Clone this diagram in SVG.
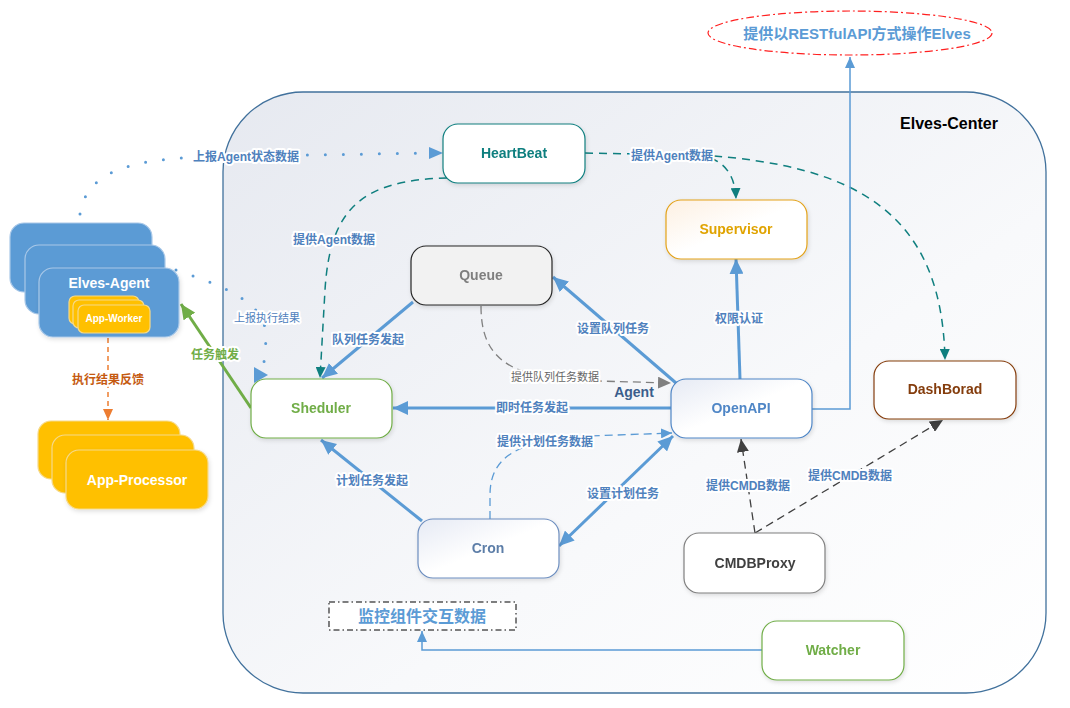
<svg xmlns="http://www.w3.org/2000/svg" width="1070" height="708" viewBox="0 0 1070 708">
<defs>
<linearGradient id="gCenter" x1="0" y1="0" x2="1" y2="1">
<stop offset="0" stop-color="#e6e9f0"/><stop offset="0.6" stop-color="#f8f9fb"/><stop offset="1" stop-color="#ffffff"/>
</linearGradient>
<linearGradient id="gBlue" x1="0" y1="0" x2="1" y2="1">
<stop offset="0" stop-color="#e6eaf4"/><stop offset="0.5" stop-color="#ffffff"/>
</linearGradient>
<linearGradient id="gOrange" x1="0" y1="0" x2="1" y2="1">
<stop offset="0" stop-color="#fdf0e2"/><stop offset="0.5" stop-color="#ffffff"/>
</linearGradient>
<filter id="sh" x="-10%" y="-10%" width="130%" height="140%">
<feDropShadow dx="1" dy="2" stdDeviation="2" flood-color="#000" flood-opacity="0.12"/>
</filter>
<marker id="aBlue" markerUnits="userSpaceOnUse" markerWidth="16" markerHeight="14" refX="15" refY="7" orient="auto-start-reverse"><path d="M0,0 L15,7 L0,14 Z" fill="#5b9bd5"/></marker>
<marker id="aBlueS" markerUnits="userSpaceOnUse" markerWidth="12" markerHeight="10" refX="11" refY="5" orient="auto"><path d="M0,0 L11,5 L0,10 Z" fill="#5b9bd5"/></marker>
<marker id="aTeal" markerUnits="userSpaceOnUse" markerWidth="12" markerHeight="10" refX="11" refY="5" orient="auto"><path d="M0,0 L11,5 L0,10 Z" fill="#0f7f7f"/></marker>
<marker id="aGray" markerUnits="userSpaceOnUse" markerWidth="14" markerHeight="12" refX="13" refY="6" orient="auto"><path d="M0,0 L13,6 L0,12 Z" fill="#808080"/></marker>
<marker id="aDark" markerUnits="userSpaceOnUse" markerWidth="14" markerHeight="12" refX="13" refY="6" orient="auto"><path d="M0,0 L13,6 L0,12 Z" fill="#404040"/></marker>
<marker id="aOrange" markerUnits="userSpaceOnUse" markerWidth="12" markerHeight="10" refX="11" refY="5" orient="auto"><path d="M0,0 L11,5 L0,10 Z" fill="#ed7d31"/></marker>
<marker id="aGreen" markerUnits="userSpaceOnUse" markerWidth="16" markerHeight="14" refX="15" refY="7" orient="auto"><path d="M0,0 L15,7 L0,14 Z" fill="#70ad47"/></marker>
</defs>
<style>
text{font-family:"Liberation Sans","Noto Sans CJK SC",sans-serif;text-anchor:middle;dominant-baseline:central}
.node{font-size:14px;font-weight:bold}
.lbl{font-size:12px;font-weight:bold;fill:#4f81bd;paint-order:stroke;stroke:#ffffff;stroke-width:4px;stroke-linejoin:round}
.lbln{font-size:11px;paint-order:stroke;stroke:#ffffff;stroke-width:4px;stroke-linejoin:round}
.thick{fill:none;stroke:#5b9bd5;stroke-width:3}
.dot{fill:none;stroke:#5b9bd5;stroke-width:3;stroke-linecap:round;stroke-dasharray:0 18}
.teal{fill:none;stroke:#0f7f7f;stroke-width:1.5;stroke-dasharray:8 6}
.card{fill:#5b9bd5;stroke:#a9c8e8;stroke-width:1.2}
.yel{fill:#ffc000;stroke:#f5d98a;stroke-width:1.2}
</style>

<g id="elves-center">
<rect x="223" y="92" width="823" height="601" rx="80" ry="80" fill="url(#gCenter)" stroke="#41719c" stroke-width="1.3"/>
<text x="949" y="123" style="font-size:16px;font-weight:bold;fill:#000">Elves-Center</text>
</g>

<g id="restful">
<ellipse cx="850" cy="33" rx="142" ry="22" fill="#ffffff" stroke="#ff2020" stroke-width="1.2" stroke-dasharray="8 3 2 3"/>
<text x="857" y="33" style="font-size:15px;font-weight:bold;fill:#5b9bd5">提供以RESTfulAPI方式操作Elves</text>
</g>

<g id="monitor">
<rect x="329" y="602" width="187" height="28" fill="#ffffff" stroke="#000" stroke-width="1" stroke-dasharray="6 3 1.5 3"/>
<text x="422" y="616" style="font-size:16px;font-weight:bold;fill:#5b9bd5">监控组件交互数据</text>
</g>

<g id="connectors">
<path class="dot" d="M80,214 C86,176 120,160 200,157 L428,153"/>
<polygon points="429,147 443,153 429,159" fill="#5b9bd5"/>
<path class="dot" d="M176,270 C228,288 268,303 266,340 L264,362"/>
<polygon points="254,367 268,375 254,383" fill="#5b9bd5"/>
<path class="teal" d="M447,178 C360,180 330,210 325,290 L320,378" marker-end="url(#aTeal)"/>
<path class="teal" d="M585,153 L700,155 C725,160 735,175 736,199" marker-end="url(#aTeal)"/>
<path class="teal" d="M700,155 C860,165 942,215 945,360" marker-end="url(#aTeal)"/>
<path class="thick" d="M413,302 L322,378" marker-end="url(#aBlue)"/>
<path class="thick" d="M676,383 L553,277" marker-end="url(#aBlue)"/>
<path class="thick" d="M671,408 L393,408" marker-end="url(#aBlue)"/>
<path class="thick" d="M422,521 L321,440" marker-end="url(#aBlue)"/>
<path class="thick" d="M673,436 L559,546" marker-start="url(#aBlue)" marker-end="url(#aBlue)"/>
<path class="thick" d="M740,379 L736,259" marker-end="url(#aBlue)"/>
<path d="M481,306 C481,350 500,372 560,380 L671,383" fill="none" stroke="#808080" stroke-width="1.3" stroke-dasharray="8 5" marker-end="url(#aGray)"/>
<path d="M490,519 L490,495 C490,455 520,440 590,436 L672,433" fill="none" stroke="#5b9bd5" stroke-width="1.3" stroke-dasharray="8 5" marker-end="url(#aBlueS)"/>
<path d="M755,533 L741,439" fill="none" stroke="#404040" stroke-width="1.3" stroke-dasharray="8 5" marker-end="url(#aDark)"/>
<path d="M755,533 L943,420" fill="none" stroke="#404040" stroke-width="1.3" stroke-dasharray="8 5" marker-end="url(#aDark)"/>
<path d="M812,409 L850,409 L850,57" fill="none" stroke="#5b9bd5" stroke-width="1.5" marker-end="url(#aBlueS)"/>
<path d="M762,650 L422,650 L422,631" fill="none" stroke="#5b9bd5" stroke-width="1.5" marker-end="url(#aBlueS)"/>
<path d="M108,338 L108,420" fill="none" stroke="#ed7d31" stroke-width="1.5" stroke-dasharray="5 4" marker-end="url(#aOrange)"/>
<path d="M251,408 L181,304" fill="none" stroke="#70ad47" stroke-width="3" marker-end="url(#aGreen)"/>
<text class="lbl" x="246" y="157">上报Agent状态数据</text>
<text class="lbl" x="334" y="240">提供Agent数据</text>
<text class="lbl" x="672" y="156">提供Agent数据</text>
<text class="lbl" x="368" y="340">队列任务发起</text>
<text class="lbl" x="613" y="329">设置队列任务</text>
<text class="lbl" x="532" y="408">即时任务发起</text>
<text class="lbln" x="555" y="377" style="fill:#666">提供队列任务数据</text>
<text class="lbln" x="267" y="318" style="fill:#4f81bd">上报执行结果</text>
<text x="634" y="392" style="font-size:14px;font-weight:bold;fill:#3b5e8c">Agent</text>
<text class="lbl" x="739" y="319">权限认证</text>
<text class="lbl" x="372" y="481">计划任务发起</text>
<text class="lbl" x="545" y="442">提供计划任务数据</text>
<text class="lbl" x="623" y="494">设置计划任务</text>
<text class="lbl" x="748" y="486">提供CMDB数据</text>
<text class="lbl" x="850" y="476">提供CMDB数据</text>
<text class="lbl" x="108" y="380" style="fill:#c55a11">执行结果反馈</text>
<text class="lbl" x="215" y="355" style="fill:#70ad47">任务触发</text>
</g>

<g id="elves-agent">
<rect class="card" x="10" y="223" width="142" height="69" rx="14"/>
<rect class="card" x="25" y="245" width="140" height="69" rx="14"/>
<rect class="card" x="39" y="268" width="140" height="69" rx="14" filter="url(#sh)"/>
<text x="109" y="283" style="font-size:14px;font-weight:bold;fill:#fff">Elves-Agent</text>
</g>

<g id="app-worker">
<rect class="yel" x="69" y="296" width="70" height="28" rx="6"/>
<rect class="yel" x="73" y="300" width="71" height="28" rx="6"/>
<rect class="yel" x="78" y="305" width="72" height="28" rx="6"/>
<text x="114" y="318" style="font-size:10px;font-weight:bold;fill:#fff">App-Worker</text>
</g>

<g id="app-processor">
<rect class="yel" x="38" y="421" width="142" height="58" rx="13"/>
<rect class="yel" x="52" y="435" width="142" height="58" rx="13"/>
<rect class="yel" x="66" y="450" width="142" height="59" rx="13" filter="url(#sh)"/>
<text x="137" y="480" style="font-size:14px;font-weight:bold;fill:#fff">App-Processor</text>
</g>

<g id="heartbeat" filter="url(#sh)">
<rect x="443" y="124" width="142" height="59" rx="15" fill="#ffffff" stroke="#0f7f7f" stroke-width="1.2"/>
<text class="node" x="514" y="153" style="fill:#0f7f7f">HeartBeat</text>
</g>

<g id="supervisor" filter="url(#sh)">
<rect x="666" y="200" width="141" height="59" rx="15" fill="url(#gOrange)" stroke="#e3a21a" stroke-width="1.2"/>
<text class="node" x="736" y="229" style="fill:#e0a300">Supervisor</text>
</g>

<g id="queue" filter="url(#sh)">
<rect x="411" y="246" width="141" height="59" rx="15" fill="#f2f2f2" stroke="#262626" stroke-width="1.2"/>
<text class="node" x="481" y="275" style="fill:#7f7f7f">Queue</text>
</g>

<g id="sheduler" filter="url(#sh)">
<rect x="251" y="379" width="141" height="59" rx="15" fill="#ffffff" stroke="#70ad47" stroke-width="1.2"/>
<text class="node" x="321" y="408" style="fill:#70ad47">Sheduler</text>
</g>

<g id="openapi" filter="url(#sh)">
<rect x="671" y="379" width="141" height="59" rx="15" fill="url(#gBlue)" stroke="#4f86c6" stroke-width="1.2"/>
<text class="node" x="741" y="408" style="fill:#4f86c6">OpenAPI</text>
</g>

<g id="dashborad" filter="url(#sh)">
<rect x="874" y="361" width="142" height="58" rx="15" fill="#ffffff" stroke="#843c0c" stroke-width="1.2"/>
<text class="node" x="945" y="389" style="fill:#843c0c">DashBorad</text>
</g>

<g id="cron" filter="url(#sh)">
<rect x="418" y="519" width="141" height="59" rx="15" fill="url(#gBlue)" stroke="#6d8ebf" stroke-width="1.2"/>
<text class="node" x="488" y="548" style="fill:#5d7ea8">Cron</text>
</g>

<g id="cmdbproxy" filter="url(#sh)">
<rect x="684" y="533" width="141" height="60" rx="15" fill="#ffffff" stroke="#7f7f7f" stroke-width="1.2"/>
<text class="node" x="755" y="563" style="fill:#404040">CMDBProxy</text>
</g>

<g id="watcher" filter="url(#sh)">
<rect x="762" y="621" width="142" height="59" rx="15" fill="#ffffff" stroke="#70ad47" stroke-width="1.2"/>
<text class="node" x="833" y="650" style="fill:#70ad47">Watcher</text>
</g>
</svg>
